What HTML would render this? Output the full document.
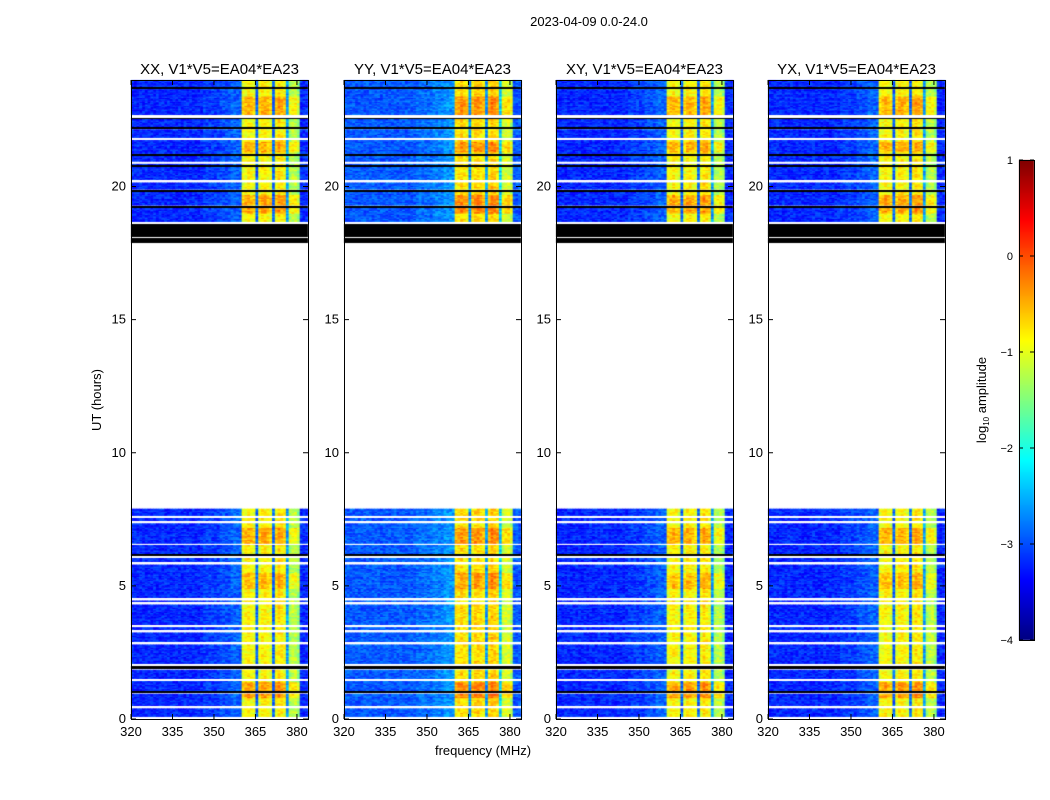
<!DOCTYPE html>
<html><head><meta charset="utf-8">
<style>
body{margin:0;background:#fff;font-family:"Liberation Sans",sans-serif;}
#wrap{position:relative;width:1050px;height:800px;overflow:hidden;background:#fff;}
canvas{position:absolute;left:0;top:0;}
</style></head>
<body>
<div id="wrap">
<canvas id="cv" width="1050" height="800"></canvas>
<svg id="ov" width="1050" height="800" style="position:absolute;left:0;top:0"></svg>
</div>
<script>
// ---- data ----
const panelTitles = ["XX, V1*V5=EA04*EA23","YY, V1*V5=EA04*EA23","XY, V1*V5=EA04*EA23","YX, V1*V5=EA04*EA23"];
const freqStart = 320, freqStep = 1;
// log10 amplitude profile per 1 MHz channel, 320..383 MHz
const chanLevel = [
 -3.2,-3.2,-3.2,-3.2,-3.2,-3.2,-3.2,-3.2,-3.2,-3.2,
 -3.2,-3.2,-3.2,-3.2,-3.2,-3.2,-3.2,-3.2,-3.2,-3.2,
 -3.2,-3.2,-3.2,-3.2,-3.2,-3.2,-3.1,-3.1,-3.1,-3.1,
 -3.1,-3.1,-3.0,-3.0,-3.0,-3.0,-2.9,-2.9,-2.9,-2.9,
 -1.0,-0.9,-0.8,-0.9,-1.0,-2.9,-1.0,-0.8,-0.8,-0.9,
 -1.0,-2.9,-0.9,-0.7,-0.8,-0.9,-2.6,-1.3,-1.2,-1.2,
 -1.4,-3.2,-3.2,-3.2];
const panelOffset = [0.0, 0.25, 0.0, 0.0];
const dataRanges = [[0.0,7.88],[17.86,24.0]];
const blackBands = [[17.86,18.6],[23.68,23.75],[22.55,22.62],[22.15,22.22],[21.15,21.22],[20.75,20.82],[19.8,19.88],[19.2,19.28],[6.12,6.18],[1.86,1.98],[0.97,1.04]];
const whiteLines = [[18.05,18.1],[22.58,22.7],[21.76,21.82],[20.87,20.93],[20.17,20.23],[18.6,18.66],[7.55,7.62],[7.36,7.42],[6.53,6.59],[6.04,6.1],[5.82,5.88],[4.47,4.53],[4.32,4.38],[3.46,3.52],[3.26,3.34],[2.82,2.88],[1.98,2.06],[1.43,1.5],[0.42,0.48],[0.0,0.06]];
const bandRowBoost = [[22.7,23.4,0.35],[21.3,21.7,0.35],[19.0,19.7,0.4],[6.6,7.2,0.35],[0.8,1.4,0.45],[4.9,5.5,0.3]];
const yTicks = [0,5,10,15,20];
const xTicks = [320,335,350,365,380];
const cbTicks = [1,0,-1,-2,-3,-4];

// ---- layout ----
const panelX = [131,344,556,768], pw = 177, py0 = 80, py1 = 719;
const fmin = 320, fmax = 384, tmin = 0, tmax = 24;
function xs(p,f){return panelX[p] + (f-fmin)/(fmax-fmin)*pw;}
function ys(t){return py1 - (t-tmin)/(tmax-tmin)*(py1-py0);}
function jet(v){
  let t=(v+4)/5; t=Math.max(0,Math.min(1,t));
  const f=(a)=>Math.max(0,Math.min(1,1.5-Math.abs(4*t-a)));
  return [f(3)*255,f(2)*255,f(1)*255].map(Math.round);
}
function hash(a,b,c){let h=(a*374761393+b*668265263+c*2246822519)>>>0;h=(h^(h>>>13))*1274126177>>>0;return ((h^(h>>>16))>>>0)/4294967295;}
const inR=(t,r)=>t>=r[0]&&t<r[1];

const cv=document.getElementById('cv'), ctx=cv.getContext('2d');
ctx.imageSmoothingEnabled=false;
const dt=0.05;
for(let p=0;p<4;p++){
  for(let r=0;r<24/dt;r++){
    const t=r*dt+dt/2;
    if(!dataRanges.some(d=>inR(t,d))) continue;
    if(blackBands.some(d=>inR(t,d))||whiteLines.some(d=>inR(t,d))) continue;
    const y0=ys(r*dt+dt), y1=ys(r*dt);
    let boost=0; bandRowBoost.forEach(b=>{if(inR(t,b))boost=b[2];});
    for(let c=0;c<chanLevel.length;c++){
      const f=freqStart+c*freqStep;
      let v=chanLevel[c]+panelOffset[p]*(chanLevel[c]<-2?1:0.6);
      if(chanLevel[c]>-2) v+=boost;
      v+= (hash(p,r,c)-0.5)*0.5;
      const [R,G,B]=jet(v);
      ctx.fillStyle=`rgb(${R},${G},${B})`;
      const x0=xs(p,f), x1=xs(p,f+freqStep);
      ctx.fillRect(x0,y0,x1-x0+0.5,y1-y0+0.5);
    }
  }
  // flagged (black) rows drawn as solid bands
  ctx.fillStyle='#000';
  blackBands.forEach(b=>{const y0=Math.round(ys(b[1])),y1=Math.round(ys(b[0]));ctx.fillRect(panelX[p],y0,pw,Math.max(1,y1-y0));});
  ctx.fillStyle='#fff';
  whiteLines.forEach(b=>{const y0=Math.round(ys(b[1])),y1=Math.round(ys(b[0]));ctx.fillRect(panelX[p],y0,pw,Math.max(1,y1-y0));});
}
// colorbar
const cbx=1019,cbw=15,cby0=160,cby1=640;
for(let i=0;i<cby1-cby0;i++){const v=1-5*i/(cby1-cby0);const [R,G,B]=jet(v);ctx.fillStyle=`rgb(${R},${G},${B})`;ctx.fillRect(cbx,cby0+i,cbw,1);}

// ---- overlay ----
const svg=document.getElementById('ov'),NS='http://www.w3.org/2000/svg';
function el(tag,attrs,txt){const e=document.createElementNS(NS,tag);for(const k in attrs)e.setAttribute(k,attrs[k]);if(txt!==undefined)e.textContent=txt;svg.appendChild(e);return e;}
const ff='"Liberation Sans",sans-serif';
let e=el('text',{x:589,y:26,'font-size':13,'text-anchor':'middle','font-family':ff},'2023-04-09 0.0-24.0');


for(let p=0;p<4;p++){
  e=el('rect',{x:panelX[p]+0.5,y:py0+0.5,width:pw,height:py1-py0,fill:'none',stroke:'#000','stroke-width':1});
  
  
  e=el('text',{x:panelX[p]+pw/2,y:74,'font-size':15,'text-anchor':'middle','font-family':ff},panelTitles[p]);
  
  
  yTicks.forEach(t=>{const y=ys(t);
    el('line',{x1:panelX[p],x2:panelX[p]+5,y1:y,y2:y,stroke:'#000'});
    el('line',{x1:panelX[p]+pw-5,x2:panelX[p]+pw,y1:y,y2:y,stroke:'#000'});
    e=el('text',{x:panelX[p]-5,y:y+4,'font-size':13,'text-anchor':'end','font-family':ff},String(t));
    
    
  });
  xTicks.forEach(f=>{const x=xs(p,f);
    el('line',{x1:x,x2:x,y1:py1-5,y2:py1,stroke:'#000'});
    el('line',{x1:x,x2:x,y1:py0,y2:py0+5,stroke:'#000'});
    e=el('text',{x:x,y:py1+17,'font-size':13,'text-anchor':'middle','font-family':ff},String(f));
    
    
  });
}
e=el('text',{x:483,y:755,'font-size':13,'text-anchor':'middle','font-family':ff},'frequency (MHz)');


e=el('text',{x:101,y:400,'font-size':13,'text-anchor':'middle','font-family':ff,transform:'rotate(-90 101 400)'},'UT (hours)');


e=el('rect',{x:cbx+0.5,y:cby0+0.5,width:cbw,height:cby1-cby0,fill:'none',stroke:'#000'});


cbTicks.forEach(v=>{const y=cby0+(1-v)/5*(cby1-cby0);
  el('line',{x1:cbx,x2:cbx+4,y1:y,y2:y,stroke:'#000'});
  el('line',{x1:cbx+cbw-4,x2:cbx+cbw,y1:y,y2:y,stroke:'#000'});
  e=el('text',{x:1013,y:y+4,'font-size':11,'text-anchor':'end','font-family':ff},v<0?'\u2212'+(-v):String(v));
  
  
});
e=el('text',{x:986,y:400,'font-size':13,'text-anchor':'middle','font-family':ff,transform:'rotate(-90 986 400)'});


const t1=document.createElementNS(NS,'tspan');t1.textContent='log';e.appendChild(t1);
const t2=document.createElementNS(NS,'tspan');t2.textContent='10';t2.setAttribute('font-size','8');t2.setAttribute('dy','3');e.appendChild(t2);
const t3=document.createElementNS(NS,'tspan');t3.textContent=' amplitude';t3.setAttribute('dy','-3');e.appendChild(t3);
</script>
</body></html>
